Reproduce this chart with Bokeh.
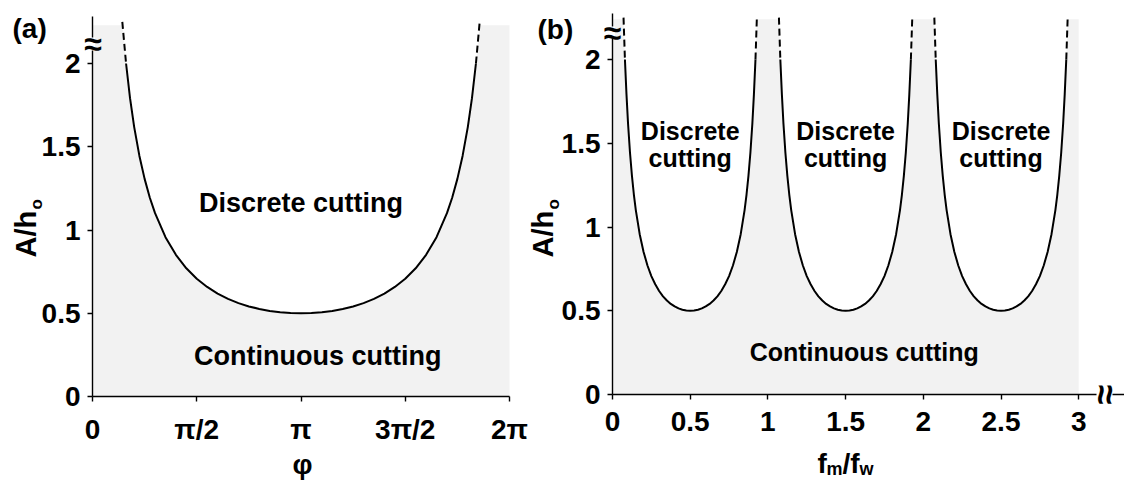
import math
from bokeh.plotting import figure
from bokeh.models import Label, FixedTicker, Range1d
from bokeh.layouts import row
from bokeh.embed import file_html
from bokeh.resources import INLINE

FONT = "Liberation Sans"
GRAY = "#f2f2f2"
H = 480

# ---------------- data: panel (a) ----------------
# phi expressed in units of pi
phi_a = [0.161, 0.18, 0.2, 0.225, 0.25, 0.275, 0.3, 0.35, 0.4, 0.45, 0.5,
         0.55, 0.6, 0.65, 0.7, 0.75, 0.8, 0.85, 0.9, 0.95, 1.0,
         1.05, 1.1, 1.15, 1.2, 1.25, 1.3, 1.35, 1.4, 1.45, 1.5,
         1.55, 1.6, 1.65, 1.7, 1.725, 1.75, 1.775, 1.8, 1.82, 1.839]
A_a = [2.0, 1.792, 1.618, 1.445, 1.307, 1.194, 1.101, 0.957, 0.851, 0.770, 0.707,
       0.658, 0.618, 0.586, 0.561, 0.541, 0.526, 0.514, 0.506, 0.502, 0.5,
       0.502, 0.506, 0.514, 0.526, 0.541, 0.561, 0.586, 0.618, 0.658, 0.707,
       0.770, 0.851, 0.957, 1.101, 1.194, 1.307, 1.445, 1.618, 1.792, 2.0]
phi_dash_left = [0.143, 0.161]
phi_dash_right = [1.839, 1.857]
A_dash_left = [2.25, 2.0]
A_dash_right = [2.0, 2.25]
shade_top_a = 2.23
phi_shade_edge = [0.144, 1.856]
x_ticks_a = [0, 0.5, 1, 1.5, 2]
x_labels_a = ["0", "π/2", "π", "3π/2", "2π"]

y_ticks = [0, 0.5, 1, 1.5, 2]
y_labels = ["0", "0.5", "1", "1.5", "2"]

# ---------------- data: panel (b) ----------------
f_lobe = [0.080, 0.09, 0.1, 0.1125, 0.125, 0.1375, 0.15, 0.175, 0.2, 0.225, 0.25,
          0.275, 0.3, 0.325, 0.35, 0.375, 0.4, 0.425, 0.45, 0.475, 0.5,
          0.525, 0.55, 0.575, 0.6, 0.625, 0.65, 0.675, 0.7, 0.725, 0.75,
          0.775, 0.8, 0.825, 0.85, 0.8625, 0.875, 0.8875, 0.9, 0.91, 0.920]
A_lobe = [2.0, 1.792, 1.618, 1.445, 1.307, 1.194, 1.101, 0.957, 0.851, 0.770, 0.707,
          0.658, 0.618, 0.586, 0.561, 0.541, 0.526, 0.514, 0.506, 0.502, 0.5,
          0.502, 0.506, 0.514, 0.526, 0.541, 0.561, 0.586, 0.618, 0.658, 0.707,
          0.770, 0.851, 0.957, 1.101, 1.194, 1.307, 1.445, 1.618, 1.792, 2.0]
f_dash_left = [0.071, 0.080]
f_dash_right = [0.920, 0.929]
A_dash_b_left = [2.25, 2.0]
A_dash_b_right = [2.0, 2.25]
lobe_start = [0, 1, 2]
shade_top_b = 2.24
f_shade_edge = [0.072, 0.928]
x_ticks_b = [0, 0.5, 1, 1.5, 2, 2.5, 3]
x_labels_b = ["0", "0.5", "1", "1.5", "2", "2.5", "3"]


class Panel:
    """Figure whose frame is the whole canvas; axes pinned at data 0 with bounds."""

    def __init__(self, left, width, x0px, xunit, y0px, yunit, xbound, ybound, xticks, xlabels, tick_size):
        # left: page x of this figure; x0px: page x of data x=0
        self.left = left
        self.x0 = x0px - left
        self.xunit, self.y0px, self.yunit = xunit, y0px, yunit
        xr = (-self.x0 / xunit, (width - self.x0) / xunit)
        yr = (-(H - y0px) / yunit, y0px / yunit)
        p = figure(width=width, height=H, x_range=Range1d(*xr), y_range=Range1d(*yr),
                   output_backend="svg", toolbar_location=None,
                   min_border_left=0, min_border_right=0, min_border_top=0, min_border_bottom=0)
        p.outline_line_color = None
        p.xgrid.visible = False
        p.ygrid.visible = False
        p.background_fill_color = "white"
        p.border_fill_color = "white"
        for ax in (p.xaxis[0], p.yaxis[0]):
            ax.fixed_location = 0
            ax.axis_line_width = 1.4
            ax.axis_line_color = "black"
            ax.major_tick_line_width = 1.4
            ax.major_tick_line_color = "black"
            ax.major_tick_out = 5
            ax.major_tick_in = 0
            ax.minor_tick_line_color = None
            ax.major_label_text_font = FONT
            ax.major_label_text_font_size = tick_size
            ax.major_label_text_font_style = "bold"
            ax.major_label_text_color = "black"
        p.xaxis.bounds = xbound
        p.yaxis.bounds = ybound
        p.xaxis.ticker = FixedTicker(ticks=xticks)
        p.xaxis.major_label_overrides = {t: l for t, l in zip(xticks, xlabels)}
        p.xaxis.major_label_standoff = 12
        p.yaxis.ticker = FixedTicker(ticks=y_ticks)
        p.yaxis.major_label_overrides = {t: l for t, l in zip(y_ticks, y_labels)}
        p.yaxis.major_label_standoff = 7
        self.p = p

    def conv(self, px, py):
        # px, py: page pixel position
        return ((px - self.left - self.x0) / self.xunit, (self.y0px - py) / self.yunit)

    def lab(self, px, py, text, size, align="left", baseline="alphabetic", angle=0.0, **kw):
        x, y = self.conv(px, py)
        self.p.add_layout(Label(x=x, y=y, text=text, text_font=FONT, text_font_size=size,
                                text_font_style="bold", text_color="black", text_align=align,
                                text_baseline=baseline, angle=angle, **kw))

    def dlab(self, x, y, text, size):
        self.p.add_layout(Label(x=x, y=y, text=text, text_font=FONT, text_font_size=size,
                                text_font_style="bold", text_color="black", text_align="center",
                                text_baseline="middle"))

    def gap(self, p0, p1, width=5):
        # white stroke hiding a short piece of an axis line (axis break)
        x0, y0 = self.conv(*p0)
        x1, y1 = self.conv(*p1)
        self.p.segment(x0=[x0], y0=[y0], x1=[x1], y1=[y1], line_color="white",
                       line_width=width, level="annotation")


# ---------------- panel (a) ----------------
WA = 528
A = Panel(0, WA, 92, (509 - 92) / 2.0, 396, 166.5, (0, 2.0), (0, 2.282), x_ticks_a, x_labels_a, "28px")
pa = A.p
xs = [0, 0, phi_shade_edge[0]] + phi_a + [phi_shade_edge[1], 2.0, 2.0]
ys = [0, shade_top_a, shade_top_a] + A_a + [shade_top_a, shade_top_a, 0]
pa.patch(xs, ys, fill_color=GRAY, line_color=None)
pa.line(phi_a, A_a, line_color="black", line_width=2)
pa.line(phi_dash_left, A_dash_left, line_color="black", line_width=2, line_dash="7 4")
pa.line(phi_dash_right, A_dash_right, line_color="black", line_width=2, line_dash="7 4")

A.dlab(1.0, 1.162, "Discrete cutting", "27px")
A.dlab(1.08, 0.243, "Continuous cutting", "27px")
A.lab(12, 28, "(a)", "28px")
A.lab(302, 464, "φ", "28px", align="center")
A.lab(25.5, 257, "A/h", "29px", baseline="middle", angle=math.pi / 2)
A.lab(35.5, 209, "o", "17px", baseline="middle", angle=math.pi / 2)
A.gap((92, 37), (92, 50))
A.lab(92.5, 43.5, "≈", "32px", align="center", baseline="middle", level="overlay")

# ---------------- panel (b) ----------------
WB = 1124 - WA
B = Panel(WA, WB, 612, 155.4, 394, 167.5, (0, 512 / 155.4), (0, 2.275), x_ticks_b, x_labels_b, "28px")
pb = B.p
sx = [0, 0]
sy = [0, shade_top_b]
for k in lobe_start:
    sx += [k + f_shade_edge[0]] + [k + f for f in f_lobe] + [k + f_shade_edge[1]]
    sy += [shade_top_b] + A_lobe + [shade_top_b]
sx += [lobe_start[-1] + 1, lobe_start[-1] + 1]
sy += [shade_top_b, 0]
pb.patch(sx, sy, fill_color=GRAY, line_color=None)
for k in lobe_start:
    pb.line([k + f for f in f_lobe], A_lobe, line_color="black", line_width=2)
    pb.line([k + f for f in f_dash_left], A_dash_b_left, line_color="black", line_width=2, line_dash="7 4")
    pb.line([k + f for f in f_dash_right], A_dash_b_right, line_color="black", line_width=2, line_dash="7 4")
    B.dlab(k + 0.5, 1.576, "Discrete", "25px")
    B.dlab(k + 0.5, 1.409, "cutting", "25px")
B.dlab(1.62, 0.2525, "Continuous cutting", "25px")

B.lab(537, 29, "(b)", "28px")
B.lab(542.5, 257, "A/h", "29px", baseline="middle", angle=math.pi / 2)
B.lab(552.5, 209, "o", "17px", baseline="middle", angle=math.pi / 2)
B.gap((612, 26), (612, 38))
B.lab(612, 32, "≈", "32px", align="center", baseline="middle", level="overlay")
B.gap((1096, 394), (1112, 394))
B.lab(1104, 394, "≈", "36px", align="center", baseline="middle", angle=math.pi / 2, level="overlay")
# x label f_m/f_w
B.lab(817, 463, "f", "28px")
B.lab(826, 468, "m", "18px")
B.lab(842, 463, "/f", "28px")
B.lab(859, 468, "w", "18px")

layout = row(pa, pb)
open("out.html", "w").write(file_html(layout, INLINE))
